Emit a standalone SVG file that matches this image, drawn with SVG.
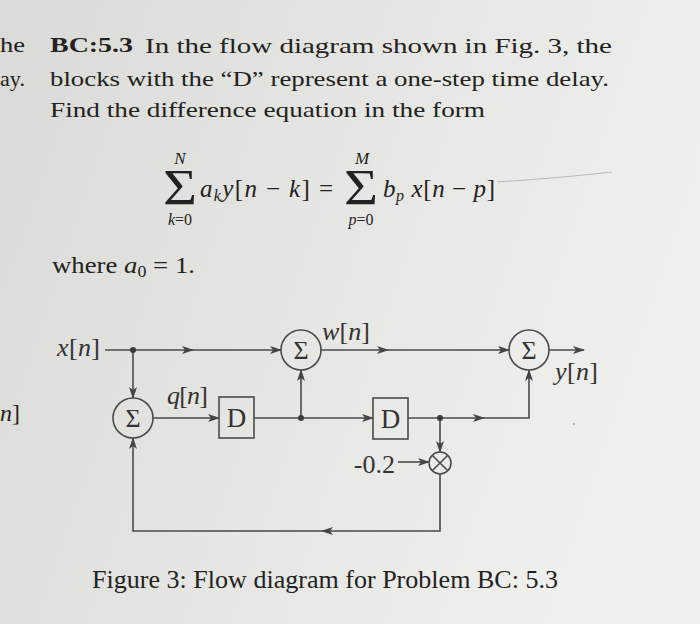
<svg xmlns="http://www.w3.org/2000/svg" width="700" height="624" viewBox="0 0 700 624">
<defs>
<linearGradient id="bg" x1="0" y1="0" x2="1" y2="0.3">
<stop offset="0" stop-color="#dadad6"/>
<stop offset="0.6" stop-color="#e7e7e4"/>
<stop offset="1" stop-color="#efefec"/>
</linearGradient>
<marker id="arr" viewBox="0 0 12 8" refX="11" refY="4" markerWidth="12" markerHeight="8" markerUnits="userSpaceOnUse" orient="auto">
<path d="M0,0 L12,4 L0,8 L3,4 z" fill="#444"/>
</marker>
<style>
.t{font-family:"Liberation Serif","Times New Roman",serif;fill:#222}
.lbl{font-family:"Liberation Serif","Times New Roman",serif;fill:#333}
.i{font-style:italic}
.ln{fill:none;stroke:#4a4a4a;stroke-width:1.6}
.node{fill:none;stroke:#4a4a4a;stroke-width:1.6}
.dot{fill:#3a3a3a}
</style>
</defs>
<rect x="0" y="0" width="700" height="624" fill="url(#bg)"/>

<!-- problem text -->
<g id="text">
<text class="t" x="0" y="52" font-size="22" textLength="25" lengthAdjust="spacingAndGlyphs">he</text>
<text class="t" x="0" y="86" font-size="22" textLength="25" lengthAdjust="spacingAndGlyphs">ay.</text>
<text class="t" x="50" y="52" font-size="22" font-weight="bold" textLength="83" lengthAdjust="spacingAndGlyphs">BC:5.3</text>
<text class="t" x="145" y="53" font-size="22" textLength="467" lengthAdjust="spacingAndGlyphs">In the flow diagram shown in Fig. 3, the</text>
<text class="t" x="50" y="86" font-size="22" textLength="559" lengthAdjust="spacingAndGlyphs">blocks with the “D” represent a one-step time delay.</text>
<text class="t" x="50" y="117" font-size="22" textLength="435" lengthAdjust="spacingAndGlyphs">Find the difference equation in the form</text>

<!-- equation -->
<text class="t" x="180" y="164" font-size="17" text-anchor="middle" font-style="italic">N</text>
<text class="t" x="163" y="204" font-size="50" textLength="34" lengthAdjust="spacingAndGlyphs">Σ</text>
<text class="t" x="180" y="225" font-size="16" text-anchor="middle"><tspan font-style="italic">k</tspan>=0</text>
<text class="t" x="200" y="197" font-size="25" textLength="133" lengthAdjust="spacing"><tspan class="i">a</tspan><tspan class="i" font-size="16" dy="4">k</tspan><tspan class="i" dy="-4">y</tspan>[<tspan class="i">n</tspan> − <tspan class="i">k</tspan>] =</text>
<text class="t" x="362" y="164" font-size="17" text-anchor="middle" font-style="italic">M</text>
<text class="t" x="344" y="204" font-size="50" textLength="34" lengthAdjust="spacingAndGlyphs">Σ</text>
<text class="t" x="361" y="225" font-size="16" text-anchor="middle"><tspan font-style="italic">p</tspan>=0</text>
<text class="t" x="383" y="197" font-size="25" textLength="112" lengthAdjust="spacing"><tspan class="i">b</tspan><tspan class="i" font-size="16" dy="4">p</tspan><tspan dy="-4"> </tspan><tspan class="i">x</tspan>[<tspan class="i">n</tspan> − <tspan class="i">p</tspan>]</text>
<path d="M497,182 Q560,178 612,172" fill="none" stroke="#b9b9b6" stroke-width="1"/>

<text class="t" x="52" y="273" font-size="24" textLength="143" lengthAdjust="spacingAndGlyphs">where <tspan class="i">a</tspan><tspan font-size="16" dy="4">0</tspan><tspan dy="-4"> = 1.</tspan></text>
<text class="t" x="0" y="421" font-size="24"><tspan class="i">n</tspan>]</text>

<text class="t" x="92" y="588" font-size="25" textLength="466" lengthAdjust="spacingAndGlyphs">Figure 3: Flow diagram for Problem BC: 5.3</text>
</g>

<!-- connectors -->
<g id="connectors">
<path class="ln" d="M105,350 L193,350" marker-end="url(#arr)"/>
<path class="ln" d="M193,350 L281,350" marker-end="url(#arr)"/>
<path class="ln" d="M133,350 L133,398" marker-end="url(#arr)"/>
<path class="ln" d="M153,418 L219,418" marker-end="url(#arr)"/>
<path class="ln" d="M254,418 L373,418" marker-end="url(#arr)"/>
<path class="ln" d="M301,418 L301,370" marker-end="url(#arr)"/>
<path class="ln" d="M321,350 L388,350" marker-end="url(#arr)"/>
<path class="ln" d="M388,350 L509,350" marker-end="url(#arr)"/>
<path class="ln" d="M549,350 L584,350" marker-end="url(#arr)"/>
<path class="ln" d="M408,418 L484,418" marker-end="url(#arr)"/>
<path class="ln" d="M484,418 L529,418 L529,370" marker-end="url(#arr)"/>
<path class="ln" d="M440,418 L440,452" marker-end="url(#arr)"/>
<path class="ln" d="M398,462 L429,462" marker-end="url(#arr)"/>
<path class="ln" d="M440,474 L440,531 L322,531" marker-end="url(#arr)"/>
<path class="ln" d="M322,531 L133,531 L133,438" marker-end="url(#arr)"/>
<circle class="dot" cx="133" cy="350" r="3"/>
<circle class="dot" cx="301" cy="418" r="3"/>
<circle class="dot" cx="440" cy="418" r="3"/>
</g>

<!-- nodes -->
<g id="sum1">
<circle class="node" cx="133" cy="418" r="20"/>
<text class="lbl" x="133" y="427" font-size="26" text-anchor="middle">Σ</text>
</g>
<g id="sum2">
<circle class="node" cx="301" cy="350" r="20"/>
<text class="lbl" x="301" y="359" font-size="26" text-anchor="middle">Σ</text>
</g>
<g id="sum3">
<circle class="node" cx="529" cy="350" r="20"/>
<text class="lbl" x="529" y="359" font-size="26" text-anchor="middle">Σ</text>
</g>
<g id="delay1">
<rect class="node" x="219" y="397" width="35" height="41"/>
<text class="lbl" x="236.5" y="427" font-size="27" text-anchor="middle">D</text>
</g>
<g id="delay2">
<rect class="node" x="373" y="398" width="35" height="41"/>
<text class="lbl" x="390.5" y="428" font-size="27" text-anchor="middle">D</text>
</g>
<g id="mult">
<circle class="node" cx="440" cy="463" r="11"/>
<path class="ln" d="M432.2,455.2 L447.8,470.8 M447.8,455.2 L432.2,470.8"/>
</g>

<!-- labels -->
<g id="labels">
<text class="lbl" x="57" y="356" font-size="26" textLength="43" lengthAdjust="spacing"><tspan class="i">x</tspan>[<tspan class="i">n</tspan>]</text>
<text class="lbl" x="167" y="404" font-size="26" textLength="41" lengthAdjust="spacing"><tspan class="i">q</tspan>[<tspan class="i">n</tspan>]</text>
<text class="lbl" x="322" y="340" font-size="26" textLength="48" lengthAdjust="spacing"><tspan class="i">w</tspan>[<tspan class="i">n</tspan>]</text>
<text class="lbl" x="555" y="380" font-size="26" textLength="43" lengthAdjust="spacing"><tspan class="i">y</tspan>[<tspan class="i">n</tspan>]</text>
<text class="lbl" x="395" y="473" font-size="26" text-anchor="end">-0.2</text>
</g>
<circle cx="574" cy="424" r="1.2" fill="#b0b0ac"/>
</svg>
